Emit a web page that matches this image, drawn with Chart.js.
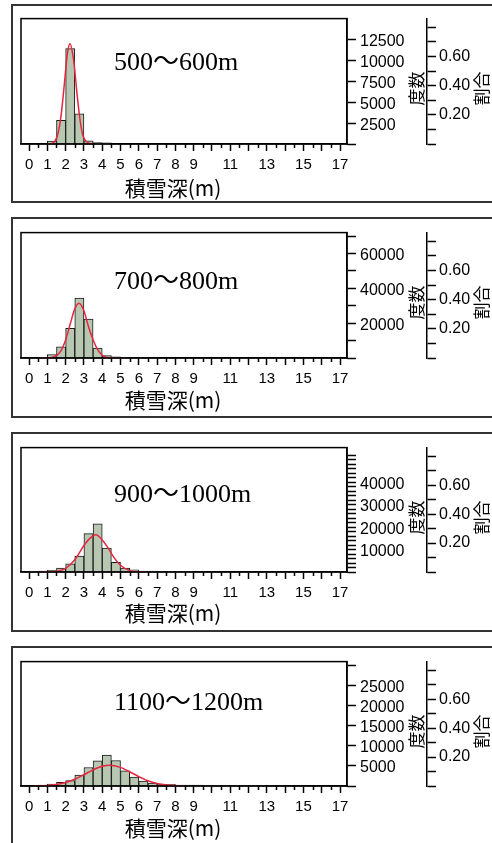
<!DOCTYPE html>
<html>
<head>
<meta charset="utf-8">
<script src="https://cdn.jsdelivr.net/npm/chart.js@4.4.1/dist/chart.umd.min.js"></script>
<style>
  body { margin: 0; width: 492px; height: 843px; overflow: hidden; background: #fff; position: relative; }
  .frame { position: absolute; left: 11px; width: 540px; box-sizing: border-box; border: 2px solid #333; }
  canvas { position: absolute; left: 0; }
</style>
</head>
<body>
<div class="frame" style="top:4px;height:199px"></div>
<div class="frame" style="top:217px;height:201px"></div>
<div class="frame" style="top:432px;height:200px"></div>
<div class="frame" style="top:646px;height:200px"></div>
<canvas id="c1" width="492" height="200" style="top:5px"></canvas>
<canvas id="c2" width="492" height="200" style="top:219px"></canvas>
<canvas id="c3" width="492" height="200" style="top:434px"></canvas>
<canvas id="c4" width="492" height="200" style="top:648px"></canvas>
<script>
// 階級の下端(m)、階級幅 0.5m
const binWidth = 0.5;

// 500〜600m
const bins1 = [1.0, 1.5, 2.0, 2.5, 3.0, 3.5, 4.0];
const counts1 = [350, 2830, 11400, 3620, 380, 180, 150];
const curveX1 = [1.0, 1.3, 1.5, 1.6, 1.75, 1.9, 2.0, 2.1, 2.24, 2.4, 2.5, 2.6, 2.75, 2.9, 3.0, 3.2, 3.5];
const curveY1 = [0, 100, 700, 1400, 3400, 6500, 8800, 10900, 12000, 10600, 8800, 6500, 3500, 1400, 700, 150, 0];
const freqTicks1 = [0, 2500, 5000, 7500, 10000, 12500];
const freqLabels1 = [2500, 5000, 7500, 10000, 12500];

// 700〜800m
const bins2 = [0, 0.5, 1.0, 1.5, 2.0, 2.5, 3.0, 3.5, 4.0, 4.5, 5.0, 5.5, 6.0];
const counts2 = [300, 400, 2000, 6400, 17100, 34400, 22300, 5700, 1400, 700, 400, 300, 250];
const curveX2 = [0.5, 1.0, 1.25, 1.5, 1.75, 2.0, 2.25, 2.5, 2.73, 3.0, 3.25, 3.5, 3.75, 4.0, 4.25, 4.5, 5.0];
const curveY2 = [0, 60, 330, 1350, 4300, 10400, 19500, 28200, 31500, 27100, 17900, 10500, 4800, 1600, 300, 50, 0];
const freqTicks2 = [0, 10000, 20000, 30000, 40000, 50000, 60000, 70000];
const freqLabels2 = [20000, 40000, 60000];

// 900〜1000m
const bins3 = [0, 0.5, 1.0, 1.5, 2.0, 2.5, 3.0, 3.5, 4.0, 4.5, 5.0, 5.5, 6.0, 6.5, 7.0, 7.5, 8.0, 8.5];
const counts3 = [350, 400, 800, 1800, 3700, 7100, 17100, 21500, 10700, 4300, 1800, 1000, 450, 400, 350, 350, 300, 300];
const curveX3 = [0.5, 1.0, 1.5, 2.0, 2.5, 3.0, 3.3, 3.65, 4.0, 4.3, 4.6, 5.0, 5.5, 6.0, 6.5];
const curveY3 = [0, 30, 300, 1600, 5500, 11800, 14800, 16600, 14300, 11000, 7000, 3000, 600, 80, 0];
const freqTicks3 = [0, 2000, 4000, 6000, 8000, 10000, 12000, 14000, 16000, 18000, 20000, 22000, 24000, 26000,
  28000, 30000, 32000, 34000, 36000, 38000, 40000, 42000, 44000, 46000, 48000, 50000, 52000];
const freqLabels3 = [10000, 20000, 30000, 40000];

// 1100〜1200m
const bins4 = [0.5, 1.0, 1.5, 2.0, 2.5, 3.0, 3.5, 4.0, 4.5, 5.0, 5.5, 6.0, 6.5, 7.0, 7.5,
  8.0, 8.5, 9.0, 9.5, 10.0, 10.5, 11.0, 11.5, 12.0, 12.5, 13.0, 13.5, 14.0, 14.5, 15.0, 15.5];
const counts4 = [250, 500, 900, 1350, 2750, 4600, 6300, 7700, 6350, 3750, 2250, 1200, 720, 480, 440,
  220, 200, 200, 190, 180, 170, 160, 160, 150, 150, 140, 140, 130, 130, 120, 120];
const curveX4 = [0.3, 0.5, 1.0, 1.5, 2.0, 2.5, 3.0, 3.5, 4.0, 4.4, 5.0, 5.5, 6.0, 6.5, 7.0, 7.5, 8.0, 8.5];
const curveY4 = [0, 50, 150, 390, 870, 1690, 2830, 4030, 4940, 5190, 4640, 3560, 2350, 1320, 640, 270, 90, 0];
const freqTicks4 = [0, 5000, 10000, 15000, 20000, 25000, 30000];
const freqLabels4 = [5000, 10000, 15000, 20000, 25000];

// 横軸
const xTicks = [0, 1, 2, 3, 4, 5, 6, 7, 8, 9, 10, 11, 12, 13, 14, 15, 16, 17];
const xMinorTicks = [0.5, 1.5, 2.5, 3.5, 4.5, 5.5, 6.5, 7.5, 8.5, 9.5, 10.5, 11.5, 12.5, 13.5, 14.5, 15.5, 16.5];
const xLabels = [0, 1, 2, 3, 4, 5, 6, 7, 8, 9, 11, 13, 15, 17];

// 割合の軸
const ratioTicks = [0, 0.1, 0.2, 0.3, 0.4, 0.5, 0.6, 0.7, 0.8];
const ratioLabels = [0.2, 0.4, 0.6];

const numFont = '"Liberation Sans", Arial, sans-serif';
const jpFont = '"Noto Sans CJK JP", sans-serif';

const panels = [
  { id: 'c1', title: '500〜600m', bins: bins1, counts: counts1, cx: curveX1, cy: curveY1,
    yMax: 15000, yTicks: freqTicks1, yLabels: freqLabels1, plotH: 131, titleY: 51, xTitleY: 44 },
  { id: 'c2', title: '700〜800m', bins: bins2, counts: counts2, cx: curveX2, cy: curveY2,
    yMax: 72000, yTicks: freqTicks2, yLabels: freqLabels2, plotH: 131, titleY: 56, xTitleY: 42 },
  { id: 'c3', title: '900〜1000m', bins: bins3, counts: counts3, cx: curveX3, cy: curveY3,
    yMax: 55500, yTicks: freqTicks3, yLabels: freqLabels3, plotH: 130, titleY: 54, xTitleY: 41 },
  { id: 'c4', title: '1100〜1200m', bins: bins4, counts: counts4, cx: curveX4, cy: curveY4,
    yMax: 31000, yTicks: freqTicks4, yLabels: freqLabels4, plotH: 130, titleY: 48, xTitleY: 42 }
];

// 枠、細かい目盛り、文字
const decor = {
  id: 'decor',
  afterDraw(chart, args, opts) {
    const { ctx, chartArea: a } = chart;
    const xs = chart.scales.x;
    ctx.save();
    ctx.strokeStyle = '#000';
    ctx.lineWidth = 1.5;
    ctx.strokeRect(a.left, a.top, a.right - a.left, a.bottom - a.top);
    ctx.beginPath();
    xMinorTicks.forEach(v => {
      const px = Math.round(xs.getPixelForValue(v)) + 0.5;
      ctx.moveTo(px, a.bottom);
      ctx.lineTo(px, a.bottom + 4);
    });
    ctx.stroke();

    ctx.fillStyle = '#000';
    ctx.font = '26px "Liberation Serif", "Noto Sans CJK JP", serif';
    ctx.textAlign = 'left';
    ctx.textBaseline = 'alphabetic';
    ctx.fillText(opts.title, 114, a.top + opts.titleY);

    ctx.font = '21px ' + jpFont;
    ctx.textAlign = 'center';
    ctx.textBaseline = 'middle';
    ctx.fillText('積雪深(m)', a.left + 152, a.bottom + opts.xTitleY);

    ctx.font = '17px ' + jpFont;
    [['度数', a.right + 70], ['割合', a.right + 135]].forEach(([t, x]) => {
      ctx.save();
      ctx.translate(x, a.top + 70);
      ctx.rotate(-Math.PI / 2);
      ctx.fillText(t, 0, 0);
      ctx.restore();
    });
    ctx.restore();
  }
};

function renderPanel(p) {
  new Chart(document.getElementById(p.id), {
    type: 'bar',
    data: {
      datasets: [
        {
          type: 'line',
          data: p.cx.map((v, i) => ({ x: v, y: p.cy[i] })),
          borderColor: '#e8253f',
          borderWidth: 1.5,
          pointRadius: 0,
          tension: 0.4,
          cubicInterpolationMode: 'monotone',
          fill: false,
          order: 0
        },
        {
          type: 'bar',
          data: p.bins.map((b, i) => ({ x: b + binWidth / 2, y: p.counts[i] })),
          backgroundColor: '#b7c7b2',
          borderColor: '#1a1a1a',
          borderWidth: 1,
          barPercentage: 1,
          categoryPercentage: 1,
          order: 1
        }
      ]
    },
    options: {
      responsive: false,
      animation: false,
      events: [],
      layout: { padding: { top: 8, left: 21, right: 0, bottom: 0 } },
      plugins: {
        legend: { display: false },
        tooltip: { enabled: false },
        decor: { title: p.title, titleY: p.titleY, xTitleY: p.xTitleY }
      },
      scales: {
        x: {
          type: 'linear',
          min: -0.44,
          max: 17.38,
          offset: false,
          afterBuildTicks: s => { s.ticks = xTicks.map(v => ({ value: v })); },
          afterFit: s => { s.height = 192 - p.plotH; },
          grid: { drawOnChartArea: false, offset: false, tickLength: 7, tickWidth: 1.5, tickColor: '#000' },
          border: { display: true, color: '#000', width: 1.5 },
          ticks: {
            autoSkip: false, maxRotation: 0, minRotation: 0, padding: 5, color: '#000',
            font: { family: numFont, size: 15 },
            callback: v => xLabels.includes(v) ? String(v) : ''
          }
        },
        y: {
          position: 'right',
          weight: 0,
          min: 0,
          max: p.yMax,
          afterBuildTicks: s => { s.ticks = p.yTicks.map(v => ({ value: v })); },
          afterFit: s => { s.width = 80; },
          grid: { drawOnChartArea: false, tickLength: 9, tickWidth: 1.5, tickColor: '#000' },
          border: { display: true, color: '#000', width: 1.5 },
          ticks: {
            autoSkip: false, padding: 4, labelOffset: 2, color: '#000',
            font: { family: numFont, size: 16 },
            callback: v => p.yLabels.includes(v) ? String(v) : ''
          }
        },
        y2: {
          position: 'right',
          weight: 1,
          min: 0,
          max: 0.86,
          afterBuildTicks: s => { s.ticks = ratioTicks.map(v => ({ value: v })); },
          afterFit: s => { s.width = 65; },
          grid: { drawOnChartArea: false, tickLength: 9, tickWidth: 1.5, tickColor: '#000' },
          border: { display: true, color: '#000', width: 1.5 },
          ticks: {
            autoSkip: false, padding: 3, color: '#000',
            font: { family: numFont, size: 16 },
            callback: v => ratioLabels.includes(v) ? v.toFixed(2) : ''
          }
        }
      }
    },
    plugins: [decor]
  });
}

panels.forEach(renderPanel);
</script>
</body>
</html>
